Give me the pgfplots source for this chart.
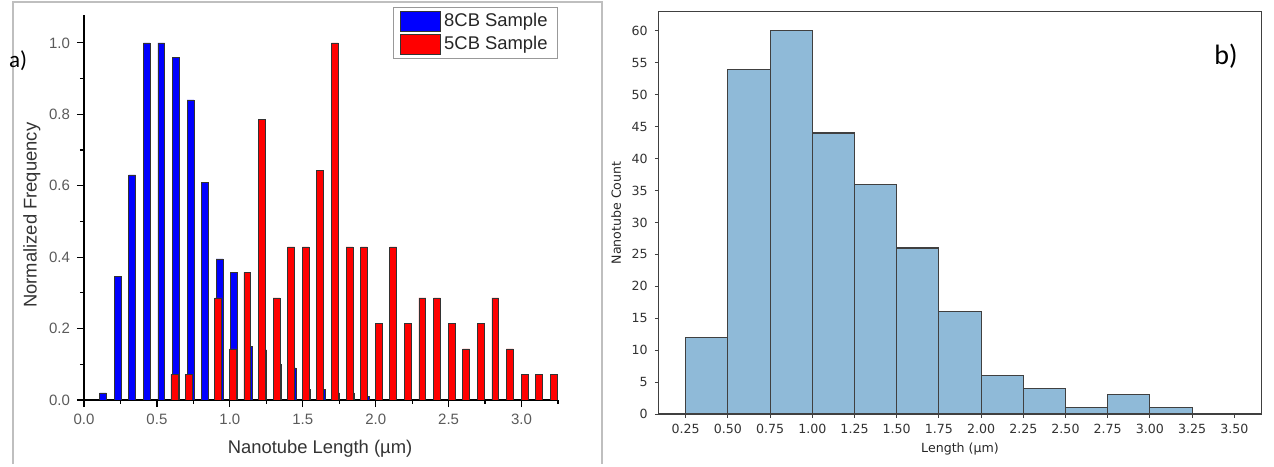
\documentclass[border=0pt]{standalone}
\usepackage{pgfplots}
\pgfplotsset{compat=1.18}
\usepackage{fontspec}
\setmainfont{Liberation Sans}
\newfontfamily\dejavu{DejaVu Sans}
\newfontfamily\carlito{Carlito}
\definecolor{histfill}{RGB}{143,186,216}
\definecolor{tickgrey}{RGB}{90,90,90}
\begin{document}
\begin{tikzpicture}
\path[use as bounding box] (0pt,0pt) rectangle (637pt,233pt);
\draw[black!25, line width=0.6pt] (6.5pt,1pt) -- (6.5pt,232pt) -- (301pt,232pt) -- (301pt,1pt);
% ---------------- panel a ----------------
\begin{axis}[at={(42pt,33pt)}, anchor=south west, scale only axis,
  width=237pt, height=192.5pt,
  xmin=0, xmax=3.25, ymin=0, ymax=1.078,
  axis lines=left, axis line style={-, line width=0.8pt, black},
  xtick={0,0.5,1.0,1.5,2.0,2.5,3.0},
  minor xtick={0.25,0.75,1.25,1.75,2.25,2.75,3.25},
  ytick={0,0.2,0.4,0.6,0.8,1.0},
  minor ytick={0.1,0.3,0.5,0.7,0.9},
  tick align=outside, major tick length=3.5pt, minor tick length=2pt,
  every tick/.style={black, line width=0.6pt},
  /pgf/number format/assume math mode=true,
  ticklabel style={font=\fontsize{7.5}{8}\selectfont, text=tickgrey},
  xticklabel style={/pgf/number format/.cd, fixed, fixed zerofill, precision=1},
  yticklabel style={/pgf/number format/.cd, fixed, fixed zerofill, precision=1},
  xlabel={Nanotube Length (µm)}, ylabel={Normalized Frequency},
  label style={font=\fontsize{9.2}{10}\selectfont, text=black!80},
  xlabel style={at={(axis description cs:0.498,-0.127)}, anchor=center},
  ylabel style={at={(axis description cs:-0.11,0.48)}, anchor=center},
  legend style={at={(axis description cs:0.652,1.021)}, anchor=north west,
    draw=black!40, line width=0.5pt, font=\fontsize{9.2}{10}\selectfont,
    text=black!85, inner xsep=3pt, inner ysep=1pt, row sep=-1pt,
    cells={anchor=west}},
  legend image code/.code={\draw[#1] (0pt,-5pt) rectangle (20pt,5pt);},
]
\addplot[ybar, bar width=0.047, bar shift=0pt, fill=blue, draw=black!80, line width=0.35pt] coordinates {
(0.13,0.02) (0.23,0.347) (0.33,0.63) (0.43,1.0) (0.53,1.0) (0.63,0.96)
(0.73,0.84) (0.83,0.61) (0.93,0.395) (1.03,0.357) (1.13,0.15) (1.23,0.14)
(1.33,0.10) (1.43,0.09) (1.53,0.03) (1.63,0.03) (1.73,0.02) (1.83,0.02) (1.93,0.01)
};
\addplot[ybar, bar width=0.047, bar shift=0pt, fill=red, draw=black!80, line width=0.35pt] coordinates {
(0.62,0.0714) (0.72,0.0714) (0.92,0.2857) (1.02,0.1429) (1.12,0.357)
(1.22,0.7857) (1.32,0.2857) (1.42,0.4286) (1.52,0.4286) (1.62,0.6429)
(1.72,1.0) (1.82,0.4286) (1.92,0.4286) (2.02,0.2143) (2.12,0.4286)
(2.22,0.2143) (2.32,0.2857) (2.42,0.2857) (2.52,0.2143) (2.62,0.1429)
(2.72,0.2143) (2.82,0.2857) (2.92,0.1429) (3.02,0.0714) (3.12,0.0714) (3.22,0.0714)
};
\legend{8CB Sample, 5CB Sample}
\end{axis}
% ---------------- panel b ----------------
\begin{axis}[at={(329.15pt,26pt)}, anchor=south west, scale only axis,
  width=301.7pt, height=201.15pt,
  xmin=0.0875, xmax=3.6625, ymin=0, ymax=63,
  axis line style={black!75, line width=0.6pt},
  xtick={0.25,0.5,0.75,1.0,1.25,1.5,1.75,2.0,2.25,2.5,2.75,3.0,3.25,3.5},
  ytick={0,5,10,15,20,25,30,35,40,45,50,55,60},
  tick pos=left, tick align=outside, major tick length=1.75pt,
  every tick/.style={black!75, line width=0.5pt},
  /pgf/number format/assume math mode=true,
  ticklabel style={font=\dejavu\fontsize{6.3}{7}\selectfont, text=black!80},
  xticklabel style={/pgf/number format/.cd, fixed, fixed zerofill, precision=2},
  xlabel={Length (µm)}, ylabel={Nanotube Count},
  label style={font=\dejavu\fontsize{6.3}{7}\selectfont, text=black!85},
  xlabel style={at={(axis description cs:0.5,-0.087)}, anchor=center},
  ylabel style={at={(axis description cs:-0.070,0.5)}, anchor=center},
]
\addplot[ybar interval, fill=histfill, draw=black!75, line width=0.55pt] coordinates {
(0.25,12) (0.5,54) (0.75,60) (1.0,44) (1.25,36) (1.5,26) (1.75,16)
(2.0,6) (2.25,4) (2.5,1) (2.75,3) (3.0,1) (3.25,1)
};
\end{axis}
\node[font=\carlito\fontsize{11.5}{12}\selectfont] at (9pt,202.5pt) {a)};
\node[font=\carlito\fontsize{14}{15}\selectfont] at (613pt,205pt) {b)};
\end{tikzpicture}
\end{document}
